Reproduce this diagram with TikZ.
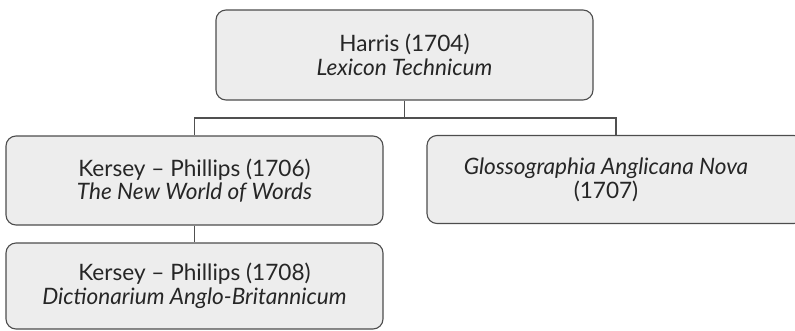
\documentclass[tikz,border=0pt]{standalone}
\usepackage{fontspec}
\setmainfont{Lato}
\definecolor{boxfill}{HTML}{EDEDED}
\definecolor{boxline}{HTML}{4D4D4D}
\definecolor{conn}{HTML}{505050}
\begin{document}
\begin{tikzpicture}[x=1pt,y=-1pt,
  entry/.style={draw=boxline, fill=boxfill, line width=1.1pt, rounded corners=10pt,
    minimum width=377pt, minimum height=89pt, inner sep=0pt, align=center,
    font=\fontsize{22.6}{23.5}\selectfont, text=black!85},
  txt/.style={align=center, inner sep=0pt, font=\fontsize{22.6}{23.5}\selectfont, text=black!85},
  link/.style={draw=conn, line width=1.5pt}]
\useasboundingbox (0,0) rectangle (795,330);
\begin{scope}
\clip (0,0) rectangle (795,330);
\node[entry, minimum height=90pt] (harris) at (404.5,55) {Harris (1704)\\\textit{Lexicon Technicum}};
\node[entry] (k1706) at (194.5,180.5) {Kersey -- Phillips (1706)\\\textit{The New World of Words}};
\node[entry, minimum height=88pt] (glosso) at (615.5,179.5) {};
\node[txt] (glossotext) at (606,180) {\textit{Glossographia Anglicana Nova}\\(1707)};
\node[entry, minimum height=86pt] (k1708) at (194.5,286) {Kersey -- Phillips (1708)\\\textit{Dictionarium Anglo-Britannicum}};
\end{scope}
\coordinate (fork) at (404.5,118);
\coordinate (gfork) at (616,118);
\coordinate (gtop) at (616,135.5);
\draw[link] (harris.south) -- (fork);
\draw[link] (fork) -| (k1706.north);
\draw[link] (fork) -- (gfork) -- (gtop);
\draw[link] (k1706.south) -- (k1708.north);
\end{tikzpicture}
\end{document}
